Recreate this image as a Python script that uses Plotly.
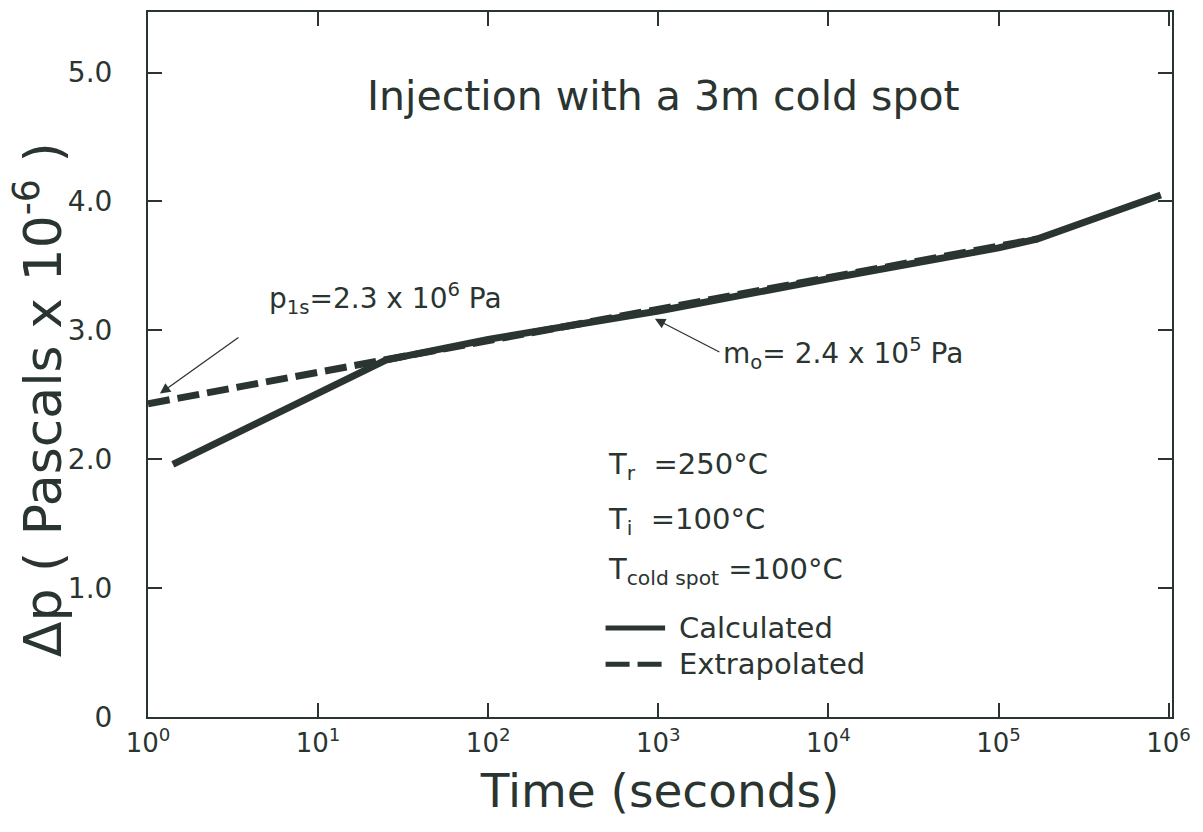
import plotly.graph_objects as go

# Pressure build-up during injection with a 3 m cold spot
calc_time = [1.4, 25, 100, 1000, 10000, 100000, 170000, 900000]
calc_dp = [1.96, 2.77, 2.93, 3.15, 3.40, 3.64, 3.71, 4.05]

extrap_time = [1.0, 170000]
extrap_dp = [2.43, 3.71]

x_tick_vals = [1, 10, 100, 1000, 10000, 100000, 1000000]
x_tick_text = ["10<sup>0</sup>", "10<sup>1</sup>", "10<sup>2</sup>", "10<sup>3</sup>",
               "10<sup>4</sup>", "10<sup>5</sup>", "10<sup>6</sup>"]
y_tick_vals = [0, 1, 2, 3, 4, 5]
y_tick_text = ["0", "1.0", "2.0", "3.0", "4.0", "5.0"]

INK = "#2a3430"
FONT = "DejaVu Sans"

fig = go.Figure()
fig.add_trace(go.Scatter(x=extrap_time, y=extrap_dp, mode="lines", name="Extrapolated",
                         line=dict(color=INK, width=7, dash="22px,8px"), showlegend=False))
fig.add_trace(go.Scatter(x=calc_time, y=calc_dp, mode="lines", name="Calculated",
                         line=dict(color=INK, width=7), showlegend=False))

axis_common = dict(showline=True, linecolor=INK, linewidth=2, mirror="allticks",
                   ticks="inside", ticklen=14, tickwidth=2, tickcolor=INK,
                   showgrid=False, zeroline=False)

fig.update_xaxes(type="log", range=[0, 6.02], tickvals=x_tick_vals, ticktext=x_tick_text,
                 tickfont=dict(family=FONT, size=26, color=INK), ticklabelstandoff=2,
                 title=dict(text="Time (seconds)", font=dict(family=FONT, size=47, color=INK),
                            standoff=17),
                 **axis_common)
fig.update_yaxes(range=[0, 5.47], tickvals=y_tick_vals, ticktext=y_tick_text,
                 tickfont=dict(family=FONT, size=28, color=INK), ticklabelstandoff=28,
                 **axis_common)

annotations = [
    # y-axis title
    dict(xref="paper", yref="paper", x=-0.107, y=0.45, xanchor="center", yanchor="middle",
         textangle=-90, showarrow=False,
         text="Δp ( Pascals x 10<sup>-6</sup> )",
         font=dict(family=FONT, size=52, color=INK)),
    dict(x=3.03, y=4.82, text="Injection with a 3m cold spot", showarrow=False,
         font=dict(family=FONT, size=41, color=INK)),
    # p1s label and arrow
    dict(x=0.7, y=3.25, text="p<sub>1s</sub>=2.3 x 10<sup>6</sup> Pa", showarrow=False,
         xanchor="left", font=dict(family=FONT, size=28, color=INK)),
    dict(x=0.07, y=2.51, text="", showarrow=True, arrowhead=2, arrowsize=1.6,
         arrowwidth=1.3, arrowcolor=INK, ax=80, ay=-57),
    # m0 label and arrow
    dict(x=3.37, y=2.82, text="m<sub>o</sub>= 2.4 x 10<sup>5</sup> Pa", showarrow=False,
         xanchor="left", font=dict(family=FONT, size=28, color=INK)),
    dict(x=2.98, y=3.09, text="", showarrow=True, arrowhead=2, arrowsize=1.6,
         arrowwidth=1.3, arrowcolor=INK, ax=66, ay=34),
    # conditions
    dict(x=2.69, y=1.95, text="T<sub>r</sub>  =250°C", showarrow=False, xanchor="left",
         font=dict(family=FONT, size=29, color=INK)),
    dict(x=2.69, y=1.52, text="T<sub>i</sub>  =100°C", showarrow=False, xanchor="left",
         font=dict(family=FONT, size=29, color=INK)),
    dict(x=2.69, y=1.13, text="T<sub>cold spot</sub> =100°C", showarrow=False, xanchor="left",
         font=dict(family=FONT, size=29, color=INK)),
    # key
    dict(x=3.11, y=0.69, text="Calculated", showarrow=False, xanchor="left",
         font=dict(family=FONT, size=29, color=INK)),
    dict(x=3.11, y=0.41, text="Extrapolated", showarrow=False, xanchor="left",
         font=dict(family=FONT, size=29, color=INK)),
]

shapes = [
    dict(type="line", xref="x", yref="y", x0=10**2.69, x1=10**3.04, y0=0.69, y1=0.69,
         line=dict(color=INK, width=5)),
    dict(type="line", xref="x", yref="y", x0=10**2.69, x1=10**3.04, y0=0.41, y1=0.41,
         line=dict(color=INK, width=5, dash="24px,8px")),
]

fig.update_layout(width=1203, height=832, margin=dict(l=148, r=31, t=10, b=115),
                  paper_bgcolor="white", plot_bgcolor="white",
                  annotations=annotations, shapes=shapes,
                  font=dict(family=FONT, color=INK))

fig.write_html("out.html")
